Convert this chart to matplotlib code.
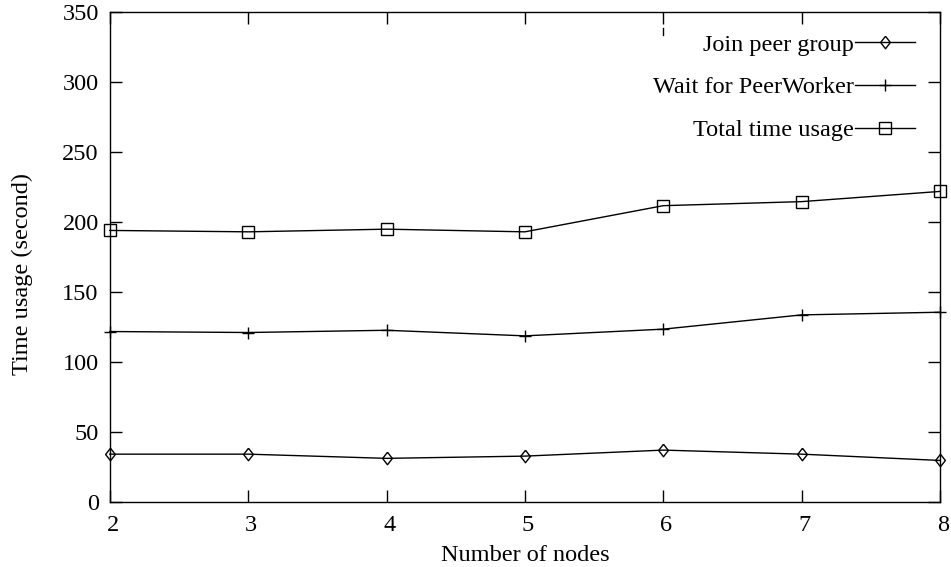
import matplotlib
matplotlib.use("Agg")
import matplotlib.pyplot as plt
from matplotlib.lines import Line2D
from matplotlib.transforms import ScaledTranslation

plt.rcParams['font.family'] = ['Liberation Serif', 'DejaVu Serif']

nodes = [2, 3, 4, 5, 6, 7, 8]
join_peer_group = [34.0, 34.0, 31.0, 32.6, 36.9, 34.0, 29.5]
wait_for_peerworker = [121.7, 121.0, 122.6, 118.6, 123.4, 133.6, 135.5]
total_time_usage = [194.0, 193.0, 194.9, 193.0, 211.7, 214.6, 221.9]

x_ticks = [2, 3, 4, 5, 6, 7, 8]
y_ticks = [0, 50, 100, 150, 200, 250, 300, 350]

FS = 17.5
W, H = 951, 567
fig = plt.figure(figsize=(W / 100, H / 100), dpi=100)
ax = fig.add_axes([109.8 / W, 1 - 501.7 / H, (940 - 109.8) / W, (501.7 - 12.3) / H])

diamond = [(0, 1), (0.78, 0), (0, -1), (-0.78, 0), (0, 1)]

ax.plot(nodes, join_peer_group, color='black', lw=1.0, marker=diamond, markersize=9,
        markerfacecolor='none', markeredgecolor='black', markeredgewidth=1.0,
        label='Join peer group', clip_on=False)
ax.plot(nodes, wait_for_peerworker, color='black', lw=1.0, marker='+', markersize=9,
        markeredgewidth=1.0, label='Wait for PeerWorker', clip_on=False)
ax.plot(nodes, total_time_usage, color='black', lw=1.0, marker='s', markersize=8.5,
        markerfacecolor='none', markeredgecolor='black', markeredgewidth=1.0,
        label='Total time usage', clip_on=False)

ax.set_xlim(2, 8)
ax.set_ylim(0, 350)
ax.set_xticks(x_ticks)
ax.set_yticks(y_ticks)
ax.tick_params(direction='in', length=8.5, width=1.0, top=True, right=True,
               labelsize=FS)
ax.tick_params(axis='y', pad=8)
ax.tick_params(axis='x', pad=9.5)
for s in ax.spines.values():
    s.set_linewidth(1.0)

shift = ScaledTranslation(3 / 100, 0, fig.dpi_scale_trans)
for lbl in ax.get_xticklabels():
    lbl.set_transform(lbl.get_transform() + shift)

ax.set_xlabel('Number of nodes', fontsize=FS, labelpad=6.5)
ax.set_ylabel('Time usage (second)', fontsize=FS)
ax.yaxis.set_label_coords((33 - 109.8) / (940 - 109.8), (501.7 - 274) / (501.7 - 12.3))

leg = ax.legend(loc='upper right', bbox_to_anchor=(0.988, 0.986), frameon=False,
                markerfirst=False, fontsize=FS, handlelength=2.5,
                handletextpad=0.05, labelspacing=0.85, borderaxespad=0.2)

# small stray mark present in the reference near the top of the plot
ax.add_line(Line2D([663 / W, 663 / W], [1 - 28 / H, 1 - 35 / H], transform=fig.transFigure,
                   color='black', lw=1.0))

fig.savefig('out.png', dpi=100)
